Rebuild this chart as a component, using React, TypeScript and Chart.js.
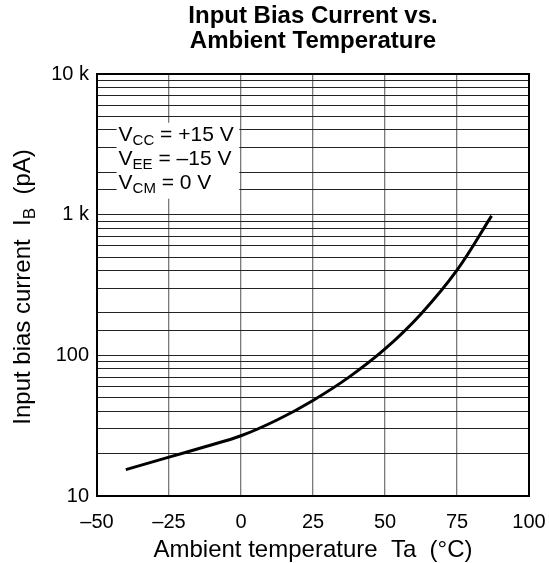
import React, { useEffect, useRef } from "react";
import { Chart, registerables } from "chart.js";

Chart.register(...registerables);

const temperatures = [-40, -25, -12.5, 0, 12.5, 25, 37.5, 50, 62.5, 75, 87];
const biasCurrent = [15.4, 18.9, 22.4, 26.8, 34.7, 47.8, 70, 111, 197, 403, 980];
const xTicks = [-50, -25, 0, 25, 50, 75, 100];
const yMajorLabels: Record<number, string> = { 10: "10", 100: "100", 1000: "1 k", 10000: "10 k" };
const titleLines = ["Input Bias Current vs.", "Ambient Temperature"];
const conditions = [
  { main: "V", sub: "CC", rest: " = +15 V" },
  { main: "V", sub: "EE", rest: " = \u201315 V" },
  { main: "V", sub: "CM", rest: " = 0 V" },
];

const FONT = "'Liberation Sans', Arial, sans-serif";

type Part = { t: string; sub?: boolean };

function drawSubText(ctx: CanvasRenderingContext2D, x: number, y: number, parts: Part[], size: number) {
  let cx = x;
  for (const p of parts) {
    const s = p.sub ? Math.round(size * 0.7) : size;
    ctx.font = `${s}px ${FONT}`;
    ctx.fillText(p.t, cx, p.sub ? y + size * 0.22 : y);
    cx += ctx.measureText(p.t).width;
  }
  return cx - x;
}

function measureSubText(ctx: CanvasRenderingContext2D, parts: Part[], size: number) {
  let w = 0;
  for (const p of parts) {
    const s = p.sub ? Math.round(size * 0.7) : size;
    ctx.font = `${s}px ${FONT}`;
    w += ctx.measureText(p.t).width;
  }
  return w;
}

const decorPlugin = {
  id: "decor",
  afterDraw(chart: any) {
    const ctx: CanvasRenderingContext2D = chart.ctx;
    const a = chart.chartArea;
    const xs = chart.scales.x;
    const ys = chart.scales.y;
    ctx.save();
    // annotation box
    const bx0 = xs.getPixelForValue(-43.2);
    const bx1 = xs.getPixelForValue(-0.6);
    const by0 = ys.getPixelForValue(4500);
    const by1 = ys.getPixelForValue(1300);
    ctx.fillStyle = "#fff";
    ctx.fillRect(bx0, by0, bx1 - bx0, by1 - by0);
    ctx.fillStyle = "#000";
    ctx.textBaseline = "alphabetic";
    ctx.textAlign = "left";
    const baselines = [140.5, 164.5, 188.5];
    conditions.forEach((c, i) => {
      drawSubText(ctx, bx0 + 2, baselines[i], [{ t: c.main }, { t: c.sub, sub: true }, { t: c.rest }], 21);
    });
    // border
    ctx.strokeStyle = "#000";
    ctx.lineWidth = 2;
    ctx.strokeRect(a.left, a.top, a.right - a.left, a.bottom - a.top);
    // title
    ctx.textAlign = "center";
    ctx.font = `bold 24px ${FONT}`;
    const cx = (a.left + a.right) / 2;
    ctx.fillText(titleLines[0], cx, 23);
    ctx.fillText(titleLines[1], cx, 48);
    // x title
    ctx.font = `24px ${FONT}`;
    ctx.fillText("Ambient temperature  Ta  (\u00b0C)", cx, 557);
    // y title
    const yParts: Part[] = [{ t: "Input bias current  I" }, { t: "B", sub: true }, { t: "  (pA)" }];
    const w = measureSubText(ctx, yParts, 24);
    ctx.translate(30, 287);
    ctx.rotate(-Math.PI / 2);
    ctx.textAlign = "left";
    drawSubText(ctx, -w / 2, 0, yParts, 24);
    ctx.restore();
  },
};

export default function App() {
  const ref = useRef<HTMLCanvasElement | null>(null);
  useEffect(() => {
    document.body.style.margin = "0";
    const canvas = ref.current!;
    const chart = new Chart(canvas, {
      type: "line",
      data: {
        datasets: [
          {
            data: temperatures.map((t, i) => ({ x: t, y: biasCurrent[i] })),
            borderColor: "#000",
            borderWidth: 3,
            pointRadius: 0,
            tension: 0.4,
            fill: false,
          },
        ],
      },
      options: {
        animation: false,
        responsive: false,
        devicePixelRatio: 1,
        layout: { padding: { left: 0, right: 20, top: 74, bottom: 0 } },
        plugins: { legend: { display: false }, title: { display: false }, tooltip: { enabled: false } },
        scales: {
          x: {
            type: "linear",
            min: -50,
            max: 100,
            afterBuildTicks: (s: any) => {
              s.ticks = xTicks.map((v) => ({ value: v }));
            },
            afterFit: (s: any) => {
              s.height = 67;
              s.paddingLeft = 0;
              s.paddingRight = 0;
            },
            grid: { color: "#7a7a7a", lineWidth: 1.3, drawTicks: false },
            border: { display: false },
            ticks: {
              padding: 14,
              color: "#000",
              font: { family: FONT, size: 20 },
              callback: (v: any) => String(v).replace("-", "\u2013"),
            },
          },
          y: {
            type: "logarithmic",
            min: 10,
            max: 10000,
            afterFit: (s: any) => {
              s.width = 97;
              s.paddingTop = 0;
              s.paddingBottom = 0;
            },
            grid: { color: "#222", lineWidth: 1, drawTicks: false },
            border: { display: false },
            ticks: {
              autoSkip: false,
              padding: 8,
              color: "#000",
              font: { family: FONT, size: 20 },
              callback: (v: any) => yMajorLabels[Math.round(Number(v))] ?? "",
            },
          },
        },
      },
      plugins: [decorPlugin],
    } as any);
    return () => chart.destroy();
  }, []);
  return (
    <div style={{ width: 549, height: 563 }}>
      <canvas ref={ref} width={549} height={563} style={{ display: "block" }} />
    </div>
  );
}
